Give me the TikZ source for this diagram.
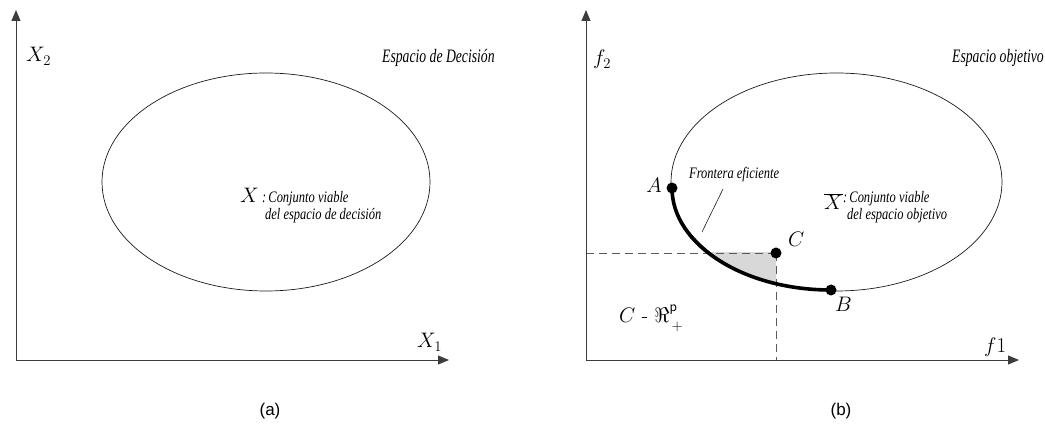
\documentclass[tikz,border=0pt]{standalone}
\usepackage{fix-cm}
\usepackage{fontspec}
\newfontfamily\mocapfont{Liberation Sans}
\newfontfamily\motextfont{Liberation Serif}
\usetikzlibrary{arrows.meta}
\definecolor{moink}{HTML}{1A1A1A}
\definecolor{moaxisgray}{HTML}{3C3C3C}
\definecolor{modashgray}{HTML}{5A5A5A}
\definecolor{moshade}{HTML}{D8D8D8}
\tikzset{
  moaxis/.style={-{Triangle[length=11pt,width=9pt]}, line width=0.9pt, draw=moaxisgray},
  moset/.style={line width=0.7pt, draw=moink},
  mofront/.style={line width=3.6pt, draw=black},
  moguide/.style={dash pattern=on 8pt off 5pt, line width=0.8pt, draw=modashgray},
  modot/.style={circle, fill=black, inner sep=0pt, minimum size=11pt},
  mosym/.style={font=\fontsize{21}{24}\selectfont, inner sep=0pt},
  motitle/.style={font=\fontsize{19}{22}\selectfont\motextfont\itshape, inner sep=0pt},
  mosmall/.style={font=\fontsize{16}{19}\selectfont\motextfont\itshape, inner sep=0pt},
  mocap/.style={font=\fontsize{17}{20}\selectfont\mocapfont, inner sep=0pt},
}
\newcommand{\mocond}[2][0.78]{\scalebox{#1}[1]{#2}}

\begin{document}
\begin{tikzpicture}[x=1pt, y=1pt]
  \useasboundingbox (0,0) rectangle (1045,439);
  % (a) decision space
  \coordinate (oa) at (16,79);
  \coordinate (ya) at (16,429);
  \coordinate (xa) at (449,79);
  \draw[moaxis] (oa) -- (ya);
  \draw[moaxis] (oa) -- (xa);
  \draw[moset] (266,257) ellipse[x radius=164, y radius=109];
  \node[mosym, anchor=base west] (xtwo) at (26,377) {$X_2$};
  \node[mosym, anchor=base west] (xone) at (417,91) {$X_1$};
  \node[motitle, anchor=base west] (dspace) at (382,376) {\mocond[0.72]{Espacio de Decisión}};
  \node[mosym, anchor=base west] (xset) at (240,236) {$X$};
  \node[mosmall, anchor=base west] (xdescA) at (262,236) {\mocond{:\,Conjunto viable}};
  \node[mosmall, anchor=base west] (xdescB) at (265,219) {\mocond{del espacio de decisión}};
  \node[mocap] (capa) at (270,28) {(a)};
  % (b) objective space
  \coordinate (ob) at (586,79);
  \coordinate (yb) at (586,429);
  \coordinate (xb) at (1019,79);
  \coordinate (pA) at (672,251);
  \coordinate (pB) at (831,149);
  \coordinate (pC) at (776,186);
  \begin{scope}
    \clip (ob) rectangle (pC);
    \fill[moshade] (831,251) ellipse[x radius=159, y radius=102];
  \end{scope}
  \draw[moguide] (ob |- pC) -- (pC);
  \draw[moguide] (pC) -- (pC |- ob);
  \draw[moaxis] (ob) -- (yb);
  \draw[moaxis] (ob) -- (xb);
  \draw[moset] (836.5,257) ellipse[x radius=165.5, y radius=109];
  \draw[mofront] (pA) arc[start angle=180, end angle=270, x radius=159, y radius=102];
  \node[modot] (dotA) at (pA) {};
  \node[modot] (dotB) at (pB) {};
  \node[modot] (dotC) at (pC) {};
  \node[mosym, anchor=base east] (labA) at (662,246) {$A$};
  \node[mosym, anchor=base west] (labB) at (835,127) {$B$};
  \node[mosym, anchor=base west] (labC) at (788,192) {$C$};
  \node[mosmall, anchor=base west] (front) at (689,260) {\mocond{Frontera eficiente}};
  \coordinate (frfoot) at (723,250);
  \coordinate (frtip) at (702,207);
  \draw[moset, line width=0.6pt] (frfoot) -- (frtip);
  \node[mosym, anchor=base west] (cone) at (619,116)
    {$C$ - $\Re^{\raisebox{4pt}{$\scriptstyle\mathsf{p}$}}_{\kern2pt\raisebox{-2pt}{$\scriptstyle +$}}$};
  \node[mosym, anchor=base west] (ftwo) at (593,374) {$f_2$};
  \node[mosym, anchor=base west] (fone) at (984,86) {$f1$};
  \node[motitle, anchor=base west] (ospace) at (952,376) {\mocond[0.72]{Espacio objetivo}};
  \node[mosym, anchor=base west] (xbar) at (824,229) {$\overline{X}$};
  \node[mosmall, anchor=base west] (ydescA) at (843,236) {\mocond{:\,Conjunto viable}};
  \node[mosmall, anchor=base west] (ydescB) at (847,219) {\mocond{del espacio objetivo}};
  \node[mocap] (capb) at (841,28) {(b)};
\end{tikzpicture}
\end{document}
